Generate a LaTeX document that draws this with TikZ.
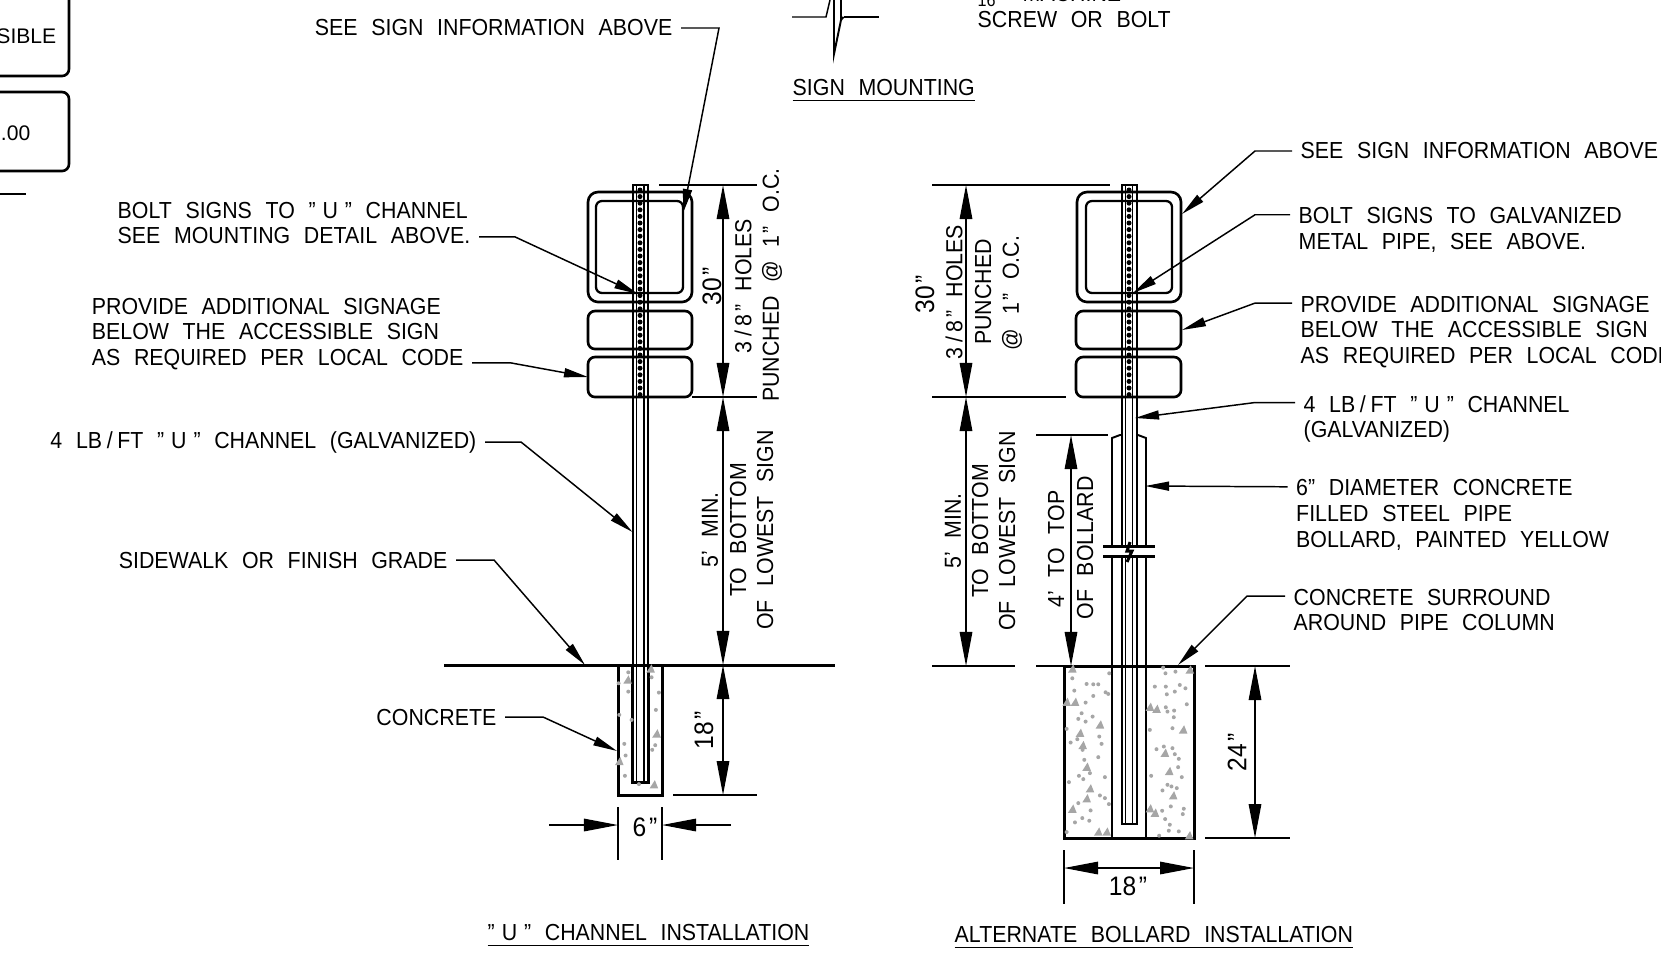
\documentclass[tikz,border=0pt]{standalone}
\usepackage{fontspec}
\setmainfont[FakeStretch=0.92,WordSpace=2.3]{Liberation Sans}
\newfontfamily\boxfont{Liberation Sans}
\usepackage{tikz}
\usetikzlibrary{arrows.meta,calc,positioning}

\newcommand{\inmark}{\kern0.1em”}
\newcommand{\threeeighths}{3\kern0.2em/\kern0.2em8\inmark}
\newcommand{\uchan}{”\kern0.3em U\kern0.3em”}
\newcommand{\lbft}{LB\kern0.2em/\kern0.2em FT}

\tikzset{
  dimtip/.tip={Triangle[length=0.34cm,width=0.125cm]},
  leadtip/.tip={Triangle[length=0.24cm,width=0.09cm]},
  extline/.style={line width=0.42pt},
  dimline/.style={line width=0.42pt,dimtip-dimtip},
  leadline/.style={line width=0.42pt,-leadtip},
  signbox/.style={line width=0.75pt,rounded corners=0.07cm},
  heavy/.style={line width=0.85pt},
  lbl/.style={inner ysep=0pt,inner xsep=0pt,align=left,font=\fontsize{6.6}{7.37}\selectfont},
  dimlbl/.style={lbl,rotate=90,align=center},
  numlbl/.style={font=\fontsize{7.6}{8}\selectfont},
  aggr/.style={fill=black!35},
}

\begin{document}
\begin{tikzpicture}[x=0.01cm,y=-0.01cm]
\useasboundingbox (0,0) rectangle (1661,960);

% clipped boxes at the left edge
\draw[signbox] (-40,-20) rectangle (69,76);
\draw[signbox] (-40,92) rectangle (69,171);
\draw[extline] (0,194) -- (26,194);
\node[lbl,anchor=east,font=\fontsize{6}{7}\boxfont] (boxone) at (57,36) {SIBLE};
\node[lbl,anchor=east,font=\fontsize{6}{7}\boxfont] (boxtwo) at (31,133) {0.00};

% sign mounting detail
\draw[extline] (792,17) -- (826,17) -- (830,0);
\draw[line width=0.55pt] (834,0) -- (834,54) -- (841,20) -- (843.5,17);
\draw[line width=0.55pt] (841,0) -- (841,20);
\draw[extline] (843.5,17) -- (879,17);
\node[lbl,anchor=west] (txtmachine) at (1022,-6) {MACHINE};
\node[lbl,anchor=west,font=\fontsize{5}{6}\selectfont] (txtsixteen) at (977,0) {16};
\node[lbl,anchor=west] (txtscrew) at (977,20) {SCREW OR BOLT};
\node[lbl,anchor=west] (ttlmount) at (792,91) {\underline{SIGN MOUNTING}};

%%%%% "U" channel installation
\draw[signbox,rounded corners=0.1cm] (588,192) rectangle (692,302);% outer sign
\draw[line width=0.65pt,rounded corners=0.06cm] (596,201) rectangle (683,293);% inner sign
\draw[signbox] (588,311) rectangle (692,349);
\draw[signbox] (588,357) rectangle (692,397);
\draw[extline] (633,185) rectangle (648,782);% channel
\draw[extline] (636.5,185) -- (636.5,782);
\draw[extline] (644,185) -- (644,782);
\foreach \n in {0,...,31}
  \fill (640,190+6.6*\n) circle (2.5);% holes

\draw[heavy] (444,665) -- (835,665);% grade
\draw[heavy] (618,665) -- (618,795) -- (662,795) -- (662,665);% footing
\draw[heavy] (632.5,665) -- (632.5,782) -- (648.5,782) -- (648.5,665);
\begin{scope}[shift={(580,640)},x=0.003333cm,y=-0.003333cm]
\foreach \x/\y in {145/97,116/130,145/155,237/158,228/210,118/225,155/240,133/312,226/316,217/330,137/347,135/408,177/433,215/112}
  \fill[aggr] (\x,\y) circle (6);
\foreach \x/\y in {143/120,212/87,118/365,230/282,222/435}
  \fill[aggr] (\x-13,\y+11) -- (\x+3,\y-14) -- (\x+13,\y+11) -- cycle;
\end{scope}

% dimensions
\draw[extline] (659,185) -- (757,185);
\draw[extline] (692,397) -- (757,397);
\draw[dimline] (723,185) -- (723,397);
\draw[dimline] (723,397) -- (723,665);
\draw[dimline] (723,665) -- (723,795);
\draw[extline] (673,795) -- (757,795);
\draw[extline] (618,807) -- (618,860);
\draw[extline] (662,807) -- (662,860);
\draw[extline,-dimtip] (549,825) -- (618,825);
\draw[extline,-dimtip] (731,825) -- (662,825);

\node[dimlbl,numlbl] (txtthirtyl) at (712,286) {30\inmark};
\node[dimlbl] (txtholesl) at (743,286) {\threeeighths{} HOLES};
\node[dimlbl] (txtpunchl) at (772,285) {PUNCHED @ 1\inmark{} O.C.};
\node[dimlbl] (txtfivel) at (710,530) {5’ MIN.};
\node[dimlbl] (txtbottoml) at (738,530) {TO BOTTOM};
\node[dimlbl] (txtlowestl) at (765,530) {OF LOWEST SIGN};
\node[dimlbl,numlbl] (txteighteenl) at (704,730) {18\inmark};
\node[lbl,numlbl] (txtsix) at (645,827) {6\inmark};

% labels and leaders
\node[lbl,anchor=east] (lblseel) at (673,28) {SEE SIGN INFORMATION ABOVE};
\node[lbl,anchor=east] (lblboltl) at (471,223) {BOLT SIGNS TO \uchan{} CHANNEL\\SEE MOUNTING DETAIL ABOVE.};
\node[lbl,anchor=east] (lbladdl) at (464,334) {PROVIDE ADDITIONAL SIGNAGE\\BELOW THE ACCESSIBLE SIGN\\AS REQUIRED PER LOCAL CODE};
\node[lbl,anchor=east] (lblchanl) at (477,442) {4 \lbft{} \uchan{} CHANNEL (GALVANIZED)};
\node[lbl,anchor=east] (lblgrade) at (448,560) {SIDEWALK OR FINISH GRADE};
\node[lbl,anchor=east] (lblconc) at (497,717) {CONCRETE};
\coordinate (tipseel) at (683,213);
\coordinate (tipboltl) at (638,294);
\coordinate (tipaddl) at (588,377);
\coordinate (tipchanl) at (632.5,532);
\coordinate (tipgrade) at (585,665);
\coordinate (tipconc) at (617,751);
\draw[leadline] ([xshift=0.08cm]lblseel.east) -- ++(38,0) -- (tipseel);
\draw[leadline] ([shift={(8,-8)}]lblboltl.south east) -- ++(36,0) -- (tipboltl);
\draw[leadline] ([shift={(8,-8)}]lbladdl.south east) -- ++(39,0) -- (tipaddl);
\draw[leadline] ([xshift=0.08cm]lblchanl.east) -- ++(36,0) -- (tipchanl);
\draw[leadline] ([xshift=0.08cm]lblgrade.east) -- ++(38,0) -- (tipgrade);
\draw[leadline] ([xshift=0.08cm]lblconc.east) -- ++(38,0) -- (tipconc);

\node[lbl,anchor=west] (ttlchan) at (487,936) {\underline{\uchan{} CHANNEL INSTALLATION}};

%%%%% alternate bollard installation
\draw[signbox,rounded corners=0.1cm] (1077,192) rectangle (1181,302);% outer sign
\draw[line width=0.65pt,rounded corners=0.06cm] (1086,201) rectangle (1172,293);% inner sign
\draw[signbox] (1076,311) rectangle (1181,349);
\draw[signbox] (1076,357) rectangle (1181,397);
\draw[extline] (1122,185) rectangle (1137,824);% channel
\draw[extline] (1125.5,185) -- (1125.5,546);
\draw[extline] (1132.5,185) -- (1132.5,546);
\draw[extline] (1125.5,556) -- (1125.5,824);
\draw[extline] (1132.5,556) -- (1132.5,824);
\foreach \n in {0,...,31}
  \fill (1129,190+6.6*\n) circle (2.5);% holes

% bollard
\draw[line width=0.55pt] (1112,546) -- (1112,438) -- (1120,435) -- (1122,435);
\draw[line width=0.55pt] (1146,546) -- (1146,438) -- (1138,435) -- (1137,435);
\draw[line width=0.55pt] (1112,556) -- (1112,838);
\draw[line width=0.55pt] (1146,556) -- (1146,838);
\fill[white] (1100,547) rectangle (1160,555);
\draw[heavy] (1103,546) -- (1155,546);
\draw[heavy] (1103,556) -- (1155,556);
\draw[heavy] (1130,542) -- (1127,551) -- (1132,551) -- (1127,562);
\draw[heavy] (1064,666) rectangle (1194,838);% footing
\begin{scope}[shift={(1040,650)},x=0.003333cm,y=-0.003333cm]
\foreach \x/\y in {97/85,140/102,160/103,175/103,103/122,160/138,197/127,205/132,137/158,125/190,115/207,158/200,137/215,80/237,178/260,112/268,92/278,185/282,128/300,133/330,175/322,117/378,130/388,150/370,195/382,87/397,180/437,195/445,115/460,152/482,127/505,105/518,148/513,80/547,208/70,207/463,370/53,377/70,407/65,345/110,378/110,420/105,437/115,405/125,381/133,441/163,378/172,383/185,403/182,402/202,330/240,398/235,350/298,372/290,398/295,405/313,417/327,415/352,334/378,426/382,383/405,395/410,411/415,368/422,393/470,432/477,429/493,367/483,376/508,390/525,387/543,417/545,358/558}
  \fill[aggr] (\x,\y) circle (6);
\foreach \x/\y in {97/57,105/157,80/157,120/250,180/225,128/287,140/352,150/417,140/447,97/478,175/547,200/547,330/172,350/178,430/240,375/310,388/365,400/438,330/477,345/490,450/60,448/558}
  \fill[aggr] (\x-13,\y+11) -- (\x+3,\y-14) -- (\x+13,\y+11) -- cycle;
\end{scope}

% dimensions
\draw[extline] (932,185) -- (1110,185);
\draw[extline] (932,397) -- (1066,397);
\draw[extline] (1036,435) -- (1108,435);
\draw[extline] (932,666) -- (1015,666);
\draw[extline] (1036,666) -- (1064,666);
\draw[dimline] (966,185) -- (966,397);
\draw[dimline] (966,397) -- (966,666);
\draw[dimline] (1071,435) -- (1071,666);
\draw[extline] (1205,666) -- (1290,666);
\draw[extline] (1205,838) -- (1290,838);
\draw[dimline] (1255,666) -- (1255,838);
\draw[extline] (1064,850) -- (1064,904);
\draw[extline] (1194,850) -- (1194,904);
\draw[dimline] (1064,868) -- (1194,868);

\node[dimlbl,numlbl] (txtthirtyr) at (925,294) {30\inmark};
\node[dimlbl] (txtholesr) at (954,292) {\threeeighths{} HOLES};
\node[dimlbl] (txtpunchr) at (983,292) {PUNCHED};
\node[dimlbl] (txtocr) at (1012,293) {@ 1\inmark{} O.C.};
\node[dimlbl] (txtfiver) at (953,531) {5’ MIN.};
\node[dimlbl] (txtbottomr) at (980,531) {TO BOTTOM};
\node[dimlbl] (txtlowestr) at (1007,531) {OF LOWEST SIGN};
\node[dimlbl] (txtfourr) at (1056,549) {4’ TO TOP};
\node[dimlbl] (txtbollr) at (1085,548) {OF BOLLARD};
\node[dimlbl,numlbl] (txttwentyfour) at (1237,752) {24\inmark};
\node[lbl,numlbl] (txteighteenr) at (1128,886) {18\inmark};

% labels and leaders
\node[lbl,anchor=west] (lblseer) at (1300,151) {SEE SIGN INFORMATION ABOVE};
\node[lbl,anchor=west] (lblboltr) at (1298,230) {BOLT SIGNS TO GALVANIZED\\METAL PIPE, SEE ABOVE.};
\node[lbl,anchor=west] (lbladdr) at (1300,332) {PROVIDE ADDITIONAL SIGNAGE\\BELOW THE ACCESSIBLE SIGN\\AS REQUIRED PER LOCAL CODE};
\node[lbl,anchor=west] (lblchanr) at (1303,419) {4 \lbft{} \uchan{} CHANNEL\\(GALVANIZED)};
\node[lbl,anchor=west] (lblpipe) at (1295.5,515) {6” DIAMETER CONCRETE\\FILLED STEEL PIPE\\BOLLARD, PAINTED YELLOW};
\node[lbl,anchor=west] (lblsurr) at (1293,610) {CONCRETE SURROUND\\AROUND PIPE COLUMN};
\coordinate (tipseer) at (1182,214);
\coordinate (tipboltr) at (1133,293);
\coordinate (tipaddr) at (1182,330);
\coordinate (tipchanr) at (1135,418);
\coordinate (tippipe) at (1145,486);
\coordinate (tipsurr) at (1178,665);
\draw[leadline] ([xshift=-0.08cm]lblseer.west) -- ++(-37,0) -- (tipseer);
\draw[leadline] ([shift={(-8,8)}]lblboltr.north west) -- ++(-35,0) -- (tipboltr);
\draw[leadline] ([shift={(-8,8)}]lbladdr.north west) -- ++(-37,0) -- (tipaddr);
\draw[leadline] ([shift={(-8,8)}]lblchanr.north west) -- ++(-40,0) -- (tipchanr);
\draw[leadline] ([shift={(-8,8)}]lblpipe.north west) -- (tippipe);
\draw[leadline] ([shift={(-8,8)}]lblsurr.north west) -- ++(-38,0) -- (tipsurr);

\node[lbl,anchor=west] (ttlboll) at (954,938) {\underline{ALTERNATE BOLLARD INSTALLATION}};

\end{tikzpicture}
\end{document}
